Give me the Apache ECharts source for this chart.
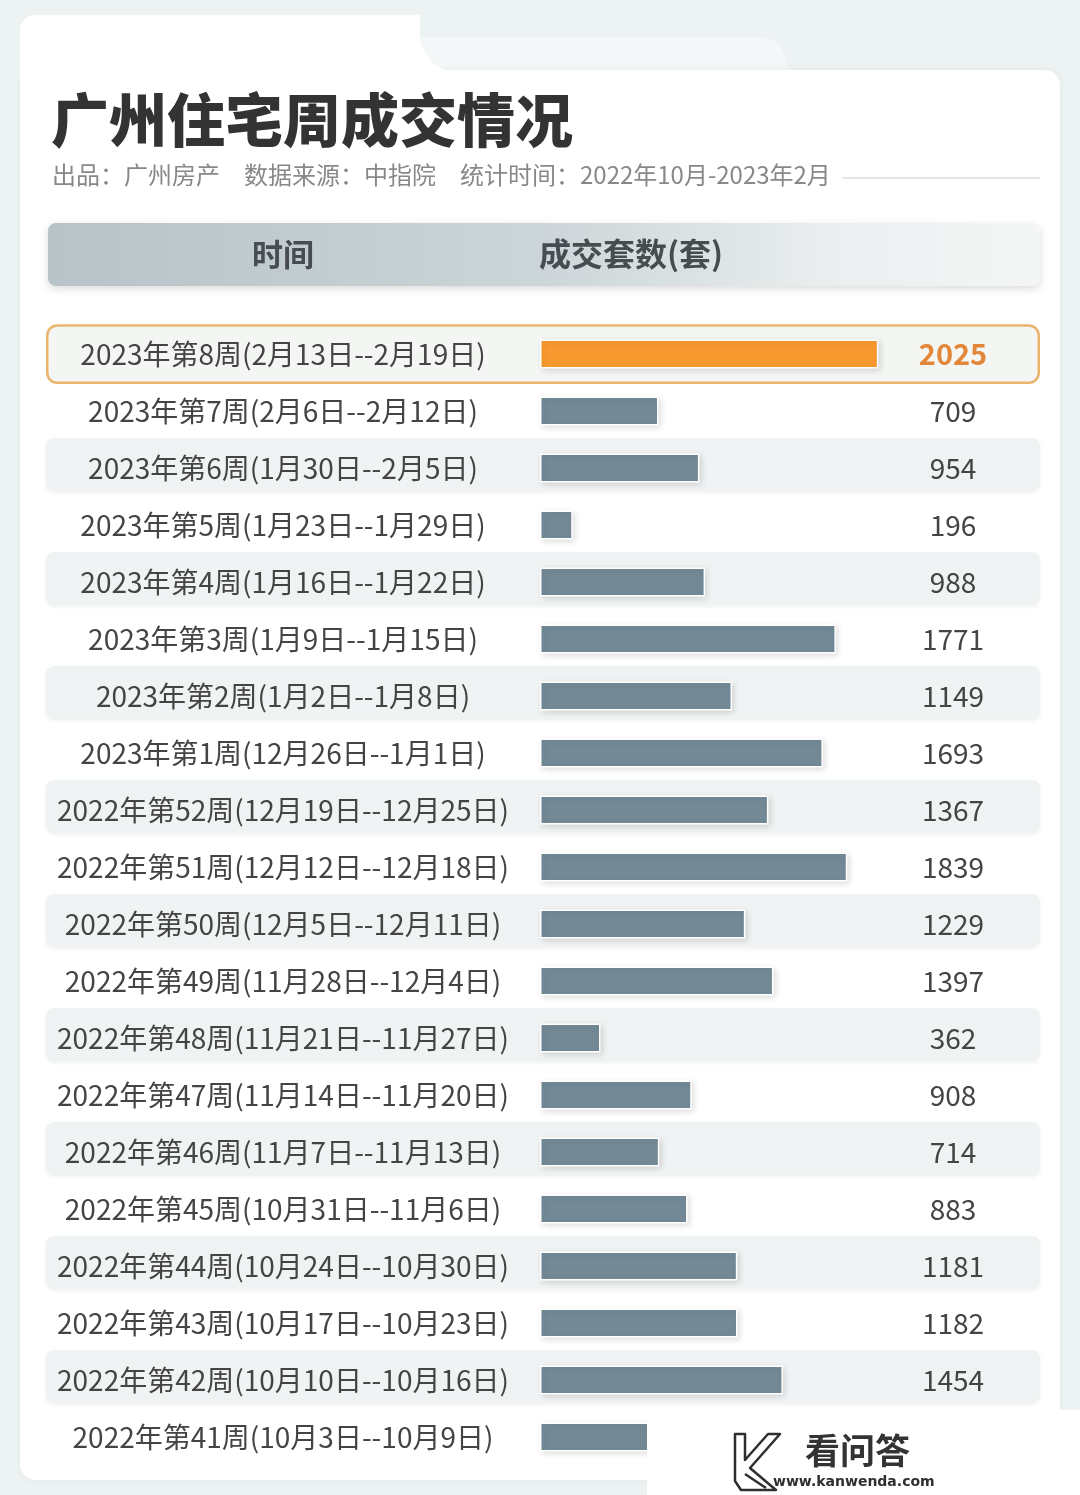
<!DOCTYPE html>
<html>
<head>
<meta charset="utf-8">
<script src="https://cdn.jsdelivr.net/npm/echarts@6/dist/echarts.min.js"></script>
<style>
html,body{margin:0;padding:0;background:#edf2f2;}
#chart{width:1080px;height:1495px;}
</style>
</head>
<body>
<div id="chart"></div>
<script>
// ---- data (top to bottom) ----
const weeks = [
  "2023年第8周(2月13日--2月19日)",
  "2023年第7周(2月6日--2月12日)",
  "2023年第6周(1月30日--2月5日)",
  "2023年第5周(1月23日--1月29日)",
  "2023年第4周(1月16日--1月22日)",
  "2023年第3周(1月9日--1月15日)",
  "2023年第2周(1月2日--1月8日)",
  "2023年第1周(12月26日--1月1日)",
  "2022年第52周(12月19日--12月25日)",
  "2022年第51周(12月12日--12月18日)",
  "2022年第50周(12月5日--12月11日)",
  "2022年第49周(11月28日--12月4日)",
  "2022年第48周(11月21日--11月27日)",
  "2022年第47周(11月14日--11月20日)",
  "2022年第46周(11月7日--11月13日)",
  "2022年第45周(10月31日--11月6日)",
  "2022年第44周(10月24日--10月30日)",
  "2022年第43周(10月17日--10月23日)",
  "2022年第42周(10月10日--10月16日)",
  "2022年第41周(10月3日--10月9日)"
];
// last value is hidden under the watermark in the source; estimated
const deals = [2025, 709, 954, 196, 988, 1771, 1149, 1693, 1367, 1839,
               1229, 1397, 362, 908, 714, 883, 1181, 1182, 1454, 1000];
const titleText = "广州住宅周成交情况";
const subtitleText = "出品：广州房产　数据来源：中指院　统计时间：2022年10月-2023年2月";
const headerCols = ["时间", "成交套数(套)"];

const FONT = '"Noto Sans CJK SC", "Noto Sans", sans-serif';
const chart = echarts.init(document.getElementById('chart'), null, {renderer: 'canvas'});

const GRID_TOP = 325.5, GRID_H = 1140;

const bgData = weeks.map((w, i) => (i > 0 && i % 2 === 0) ? 1 : '-');
const hlData = weeks.map((w, i) => i === 0 ? 1 : '-');

// decorative smooth curve points for card tab edges
function bez(p0, p1, p2, p3, n) {
  const pts = [];
  for (let k = 0; k <= n; k++) {
    const t = k / n, u = 1 - t;
    pts.push([
      u*u*u*p0[0] + 3*u*u*t*p1[0] + 3*u*t*t*p2[0] + t*t*t*p3[0],
      u*u*u*p0[1] + 3*u*u*t*p1[1] + 3*u*t*t*p2[1] + t*t*t*p3[1]
    ]);
  }
  return pts;
}
const tabCurve = [[380, 15]].concat(bez([390, 15], [422, 15], [418, 71], [452, 71], 16)).concat([[452, 90], [380, 90]]);
const backTab = [[400, 90], [400, 37]].concat(bez([760, 37], [780, 37], [784, 52], [790, 72], 12)).concat([[790, 90]]);

const option = {
  backgroundColor: '#edf2f2',
  animation: false,
  grid: [
    {left: 540, width: 401, top: GRID_TOP, height: GRID_H},
    {left: 46, width: 994, top: GRID_TOP, height: GRID_H}
  ],
  xAxis: [
    {gridIndex: 0, type: 'value', min: 0, max: 2400, show: false},
    {gridIndex: 1, type: 'value', min: 0, max: 1, show: false}
  ],
  yAxis: [
    {
      gridIndex: 0, type: 'category', inverse: true, data: weeks, position: 'left', z: 10,
      axisLine: {show: false}, axisTick: {show: false}, splitLine: {show: false},
      axisLabel: {
        interval: 0, margin: 257, align: 'center', fontSize: 28, color: '#444',
        fontFamily: FONT
      }
    },
    {
      gridIndex: 0, type: 'category', inverse: true, data: deals.map(String), position: 'right', z: 10,
      axisLine: {show: false}, axisTick: {show: false}, splitLine: {show: false},
      axisLabel: {
        interval: 0, margin: 12, align: 'center', fontSize: 28, color: '#444',
        fontFamily: FONT,
        formatter: (v, i) => i === 0 ? '{hl|' + v + '}' : v,
        rich: {hl: {fontSize: 29, fontWeight: 'bold', color: '#e2873a', fontFamily: FONT}}
      }
    },
    {
      gridIndex: 1, type: 'category', inverse: true, data: weeks, show: false
    }
  ],
  series: [
    {
      name: 'rowbg', type: 'bar', xAxisIndex: 1, yAxisIndex: 2, data: bgData,
      barWidth: 53, z: 1, silent: true,
      itemStyle: {color: '#f0f3f3', borderRadius: 8,
        shadowColor: 'rgba(0,0,0,0.06)', shadowBlur: 4, shadowOffsetY: 2}
    },
    {
      name: 'highlight', type: 'bar', xAxisIndex: 1, yAxisIndex: 2, data: hlData,
      barWidth: 60, barGap: '-100%', z: 1, silent: true,
      itemStyle: {color: '#f4f6f4', borderRadius: 10, borderColor: '#e9b56c', borderWidth: 2.5}
    },
    {
      name: '成交套数', type: 'bar', xAxisIndex: 0, yAxisIndex: 0, barWidth: 29, z: 3,
      data: deals.map((v, i) => ({
        value: v,
        itemStyle: {color: i === 0 ? '#f7992f' : '#738996'}
      })),
      itemStyle: {borderColor: '#ffffff', borderWidth: 1.5,
        shadowColor: 'rgba(0,0,0,0.12)', shadowBlur: 6, shadowOffsetX: 2, shadowOffsetY: 2}
    }
  ],
  graphic: [
    // lighter back tab
    {type: 'polygon', z: -30, silent: true,
      shape: {points: backTab}, style: {fill: '#f4f7f7'}},
    // main card
    {type: 'rect', z: -20, silent: true,
      shape: {x: 20, y: 70, width: 1040, height: 1410, r: 15},
      style: {fill: '#ffffff', shadowColor: 'rgba(0,0,0,0.05)', shadowBlur: 6}},
    {type: 'rect', z: -19, silent: true,
      shape: {x: 20, y: 15, width: 400, height: 100, r: [15, 0, 0, 0]},
      style: {fill: '#ffffff'}},
    {type: 'polygon', z: -19, silent: true,
      shape: {points: tabCurve}, style: {fill: '#ffffff'}},
    // title
    {type: 'text', z: 10, left: 51, top: 91, silent: true,
      style: {text: titleText, font: '900 58px ' + FONT, fill: '#333333'}},
    {type: 'text', z: 10, left: 52, top: 163, silent: true,
      style: {text: subtitleText, font: '24px ' + FONT, fill: '#888888'}},
    {type: 'line', z: 10, silent: true,
      shape: {x1: 842, y1: 178, x2: 1040, y2: 178},
      style: {stroke: '#dddddd', lineWidth: 1.5}},
    // header bar
    {type: 'rect', z: 5, silent: true,
      shape: {x: 48, y: 223, width: 992, height: 63, r: 8},
      style: {
        fill: {type: 'linear', x: 0, y: 0, x2: 1, y2: 0, colorStops: [
          {offset: 0, color: '#b7c3c7'},
          {offset: 0.5, color: '#ccd5d8'},
          {offset: 0.8, color: '#ebefef'},
          {offset: 1, color: '#f4f6f6'}
        ]},
        shadowColor: 'rgba(0,0,0,0.14)', shadowBlur: 8, shadowOffsetY: 3
      }},
    {type: 'text', z: 10, x: 283, y: 254, silent: true,
      style: {text: headerCols[0], font: 'bold 31px ' + FONT, fill: '#474c50',
        textAlign: 'center', textVerticalAlign: 'middle'}},
    {type: 'text', z: 10, x: 539, y: 254, silent: true,
      style: {text: headerCols[1], font: 'bold 32px ' + FONT, fill: '#474c50',
        textAlign: 'left', textVerticalAlign: 'middle'}},
    // watermark
    {type: 'rect', z: 100, silent: true,
      shape: {x: 647, y: 1410, width: 433, height: 85},
      style: {fill: '#ffffff'}},
    {type: 'polygon', z: 101, silent: true,
      shape: {points: [[735, 1434], [745, 1434], [745, 1460], [768, 1434], [780, 1434], [750, 1468], [776, 1490], [741, 1490], [735, 1481]]},
      style: {fill: 'none', stroke: '#2f2f2f', lineWidth: 2.5, lineJoin: 'round'}},
    {type: 'line', z: 101, silent: true,
      shape: {x1: 745, y1: 1474, x2: 766, y2: 1488},
      style: {stroke: '#2f2f2f', lineWidth: 2.5}},
    {type: 'text', z: 101, left: 805, top: 1433, silent: true,
      style: {text: '看问答', font: 'bold 35px ' + FONT, fill: '#333333'}},
    {type: 'text', z: 101, left: 773, top: 1475, silent: true,
      style: {text: 'www.kanwenda.com', font: 'bold 14px "DejaVu Sans", sans-serif', fill: '#2f2f2f'}}
  ]
};
chart.setOption(option);
</script>
</body>
</html>
